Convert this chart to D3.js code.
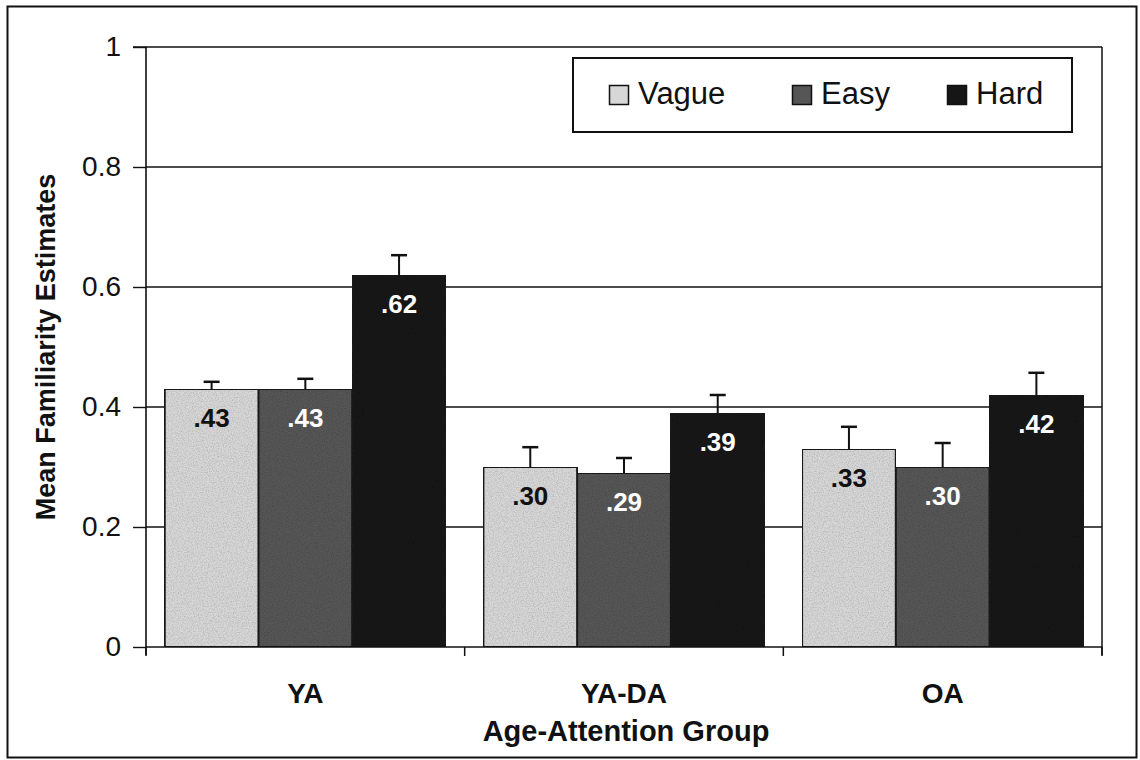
<!DOCTYPE html>
<html>
<head>
<meta charset="utf-8">
<script src="https://cdn.jsdelivr.net/npm/d3@7"></script>
<style>
  html, body { margin: 0; padding: 0; background: #fff; }
  svg { display: block; font-family: "Liberation Sans", Arial, sans-serif; }
</style>
</head>
<body>
<svg id="chart" width="1140" height="760"></svg>
<script>
// Age-attention groups and task conditions
const groups = ["YA", "YA-DA", "OA"];
const conditions = ["Vague", "Easy", "Hard"];

// Mean familiarity estimates per condition, in group order
const vague = [0.43, 0.30, 0.33];
const easy  = [0.43, 0.29, 0.30];
const hard  = [0.62, 0.39, 0.42];

// Standard errors (upper whisker only)
const vagueErr = [0.012, 0.033, 0.037];
const easyErr  = [0.017, 0.025, 0.040];
const hardErr  = [0.033, 0.030, 0.037];

// Value labels printed on the bars
const vagueLabels = [".43", ".30", ".33"];
const easyLabels  = [".43", ".29", ".30"];
const hardLabels  = [".62", ".39", ".42"];

const yTicks = [0, 0.2, 0.4, 0.6, 0.8, 1];
const yTickLabels = ["0", "0.2", "0.4", "0.6", "0.8", "1"];

const seriesValues = [vague, easy, hard];
const seriesErrors = [vagueErr, easyErr, hardErr];
const seriesLabels = [vagueLabels, easyLabels, hardLabels];

const fills = { Vague: "#d7d7d7", Easy: "#565656", Hard: "#161616" };
const labelColors = { Vague: "#111", Easy: "#fff", Hard: "#fff" };

const rows = [];
groups.forEach((g, gi) => {
  conditions.forEach((c, ci) => {
    rows.push({
      group: g, cond: c,
      value: seriesValues[ci][gi],
      err: seriesErrors[ci][gi],
      label: seriesLabels[ci][gi]
    });
  });
});

const svg = d3.select("#chart");
const plot = { left: 146, right: 1102, top: 47, bottom: 647 };

const defs = svg.append("defs");
// faint print-grain texture over the bars
const grain = defs.append("filter").attr("id", "grain")
  .attr("x", 0).attr("y", 0).attr("width", 1).attr("height", 1);
grain.append("feTurbulence").attr("type", "fractalNoise")
  .attr("baseFrequency", 0.8).attr("numOctaves", 2).attr("seed", 3).attr("result", "noise");
grain.append("feColorMatrix").attr("in", "noise").attr("type", "matrix")
  .attr("values", "0 0 0 0 0  0 0 0 0 0  0 0 0 0 0  0 0 0 -0.6 0.38").attr("result", "speck");
grain.append("feComposite").attr("in", "speck").attr("in2", "SourceGraphic").attr("operator", "in").attr("result", "speckIn");
grain.append("feComposite").attr("in", "speckIn").attr("in2", "SourceGraphic").attr("operator", "over");

const x0 = d3.scaleBand().domain(groups).range([plot.left, plot.right]).paddingInner(0).paddingOuter(0);
const x1 = d3.scaleBand().domain(conditions).range([0, x0.bandwidth()]).paddingInner(0).paddingOuter(0.2);
const y = d3.scaleLinear().domain([0, 1]).range([plot.bottom, plot.top]);

// outer frame
svg.append("rect").attr("x", 7.5).attr("y", 6.5).attr("width", 1129).attr("height", 751)
  .attr("fill", "none").attr("stroke", "#111").attr("stroke-width", 2);

// horizontal gridlines
svg.append("g").selectAll("line").data(yTicks.filter(t => t > 0)).join("line")
  .attr("x1", plot.left).attr("x2", plot.right)
  .attr("y1", d => y(d)).attr("y2", d => y(d))
  .attr("stroke", "#111").attr("stroke-width", 1.4);

// right edge of plot area
svg.append("line").attr("x1", plot.right).attr("x2", plot.right)
  .attr("y1", plot.top).attr("y2", plot.bottom + 8)
  .attr("stroke", "#111").attr("stroke-width", 1.5);

// bars
const gGroups = svg.append("g").selectAll("g").data(groups).join("g")
  .attr("transform", d => `translate(${x0(d)},0)`);

gGroups.selectAll("rect").data(g => rows.filter(r => r.group === g)).join("rect")
  .attr("x", d => x1(d.cond))
  .attr("y", d => y(d.value))
  .attr("width", x1.bandwidth())
  .attr("height", d => y(0) - y(d.value))
  .attr("fill", d => fills[d.cond])
  .attr("stroke", "#1a1a1a").attr("stroke-width", 2)
  .attr("filter", "url(#grain)");

// error whiskers
const errG = gGroups.selectAll("g.err").data(g => rows.filter(r => r.group === g)).join("g").attr("class", "err");
errG.append("line")
  .attr("x1", d => x1(d.cond) + x1.bandwidth() / 2).attr("x2", d => x1(d.cond) + x1.bandwidth() / 2)
  .attr("y1", d => y(d.value)).attr("y2", d => y(d.value + d.err))
  .attr("stroke", "#111").attr("stroke-width", 2);
errG.append("line")
  .attr("x1", d => x1(d.cond) + x1.bandwidth() / 2 - 8).attr("x2", d => x1(d.cond) + x1.bandwidth() / 2 + 8)
  .attr("y1", d => y(d.value + d.err)).attr("y2", d => y(d.value + d.err))
  .attr("stroke", "#111").attr("stroke-width", 2.5);

// value labels
gGroups.selectAll("text.val").data(g => rows.filter(r => r.group === g)).join("text")
  .attr("class", "val")
  .attr("x", d => x1(d.cond) + x1.bandwidth() / 2)
  .attr("y", d => y(d.value) + 38)
  .attr("text-anchor", "middle")
  .attr("font-size", 26).attr("font-weight", "bold")
  .attr("fill", d => labelColors[d.cond])
  .text(d => d.label);

// y axis
const yAxis = d3.axisLeft(y).tickValues(yTicks).tickSize(13).tickPadding(12)
  .tickFormat((d, i) => yTickLabels[i]);
const yg = svg.append("g").attr("transform", `translate(${plot.left},0)`).call(yAxis);
yg.select(".domain").attr("stroke", "#111").attr("stroke-width", 1.6).attr("d", `M-13,${plot.top}H0V${plot.bottom + 8}`);
yg.selectAll(".tick line").attr("stroke", "#111").attr("stroke-width", 1.4);
yg.selectAll(".tick text").attr("font-size", 28).attr("fill", "#111")
  .attr("font-family", "'Liberation Sans', Arial, sans-serif");

// x axis baseline with category separators
const sepTicks = groups.map(g => x0(g)).concat([plot.right]);
svg.append("line").attr("x1", plot.left).attr("x2", plot.right)
  .attr("y1", plot.bottom).attr("y2", plot.bottom)
  .attr("stroke", "#111").attr("stroke-width", 1.6);
svg.append("g").selectAll("line").data(sepTicks).join("line")
  .attr("x1", d => d).attr("x2", d => d)
  .attr("y1", plot.bottom).attr("y2", plot.bottom + 9)
  .attr("stroke", "#111").attr("stroke-width", 1.5);

// category labels
svg.append("g").selectAll("text").data(groups).join("text")
  .attr("x", d => x0(d) + x0.bandwidth() / 2)
  .attr("y", 703)
  .attr("text-anchor", "middle")
  .attr("font-size", 28).attr("font-weight", "bold").attr("fill", "#111")
  .text(d => d);

// axis titles
svg.append("text")
  .attr("x", (plot.left + plot.right) / 2 + 2).attr("y", 741)
  .attr("text-anchor", "middle")
  .attr("font-size", 29).attr("font-weight", "bold").attr("fill", "#111")
  .text("Age-Attention Group");

svg.append("text")
  .attr("transform", `translate(55,${(plot.top + plot.bottom) / 2}) rotate(-90)`)
  .attr("text-anchor", "middle")
  .attr("font-size", 27).attr("font-weight", "bold").attr("fill", "#111")
  .text("Mean Familiarity Estimates");

// legend
const legend = svg.append("g");
legend.append("rect").attr("x", 573).attr("y", 58).attr("width", 499).attr("height", 74)
  .attr("fill", "#fff").attr("stroke", "#111").attr("stroke-width", 2);
const legendX = [609, 792, 947];
const items = legend.selectAll("g.item").data(conditions).join("g").attr("class", "item")
  .attr("transform", (d, i) => `translate(${legendX[i]},85)`);
items.append("rect").attr("x", 0.5).attr("y", 0.5).attr("width", 19).attr("height", 19)
  .attr("fill", d => fills[d]).attr("stroke", "#111").attr("stroke-width", 1.5);
items.append("text").attr("x", 29).attr("y", 19)
  .attr("font-size", 31).attr("fill", "#111")
  .text(d => d);
</script>
</body>
</html>
